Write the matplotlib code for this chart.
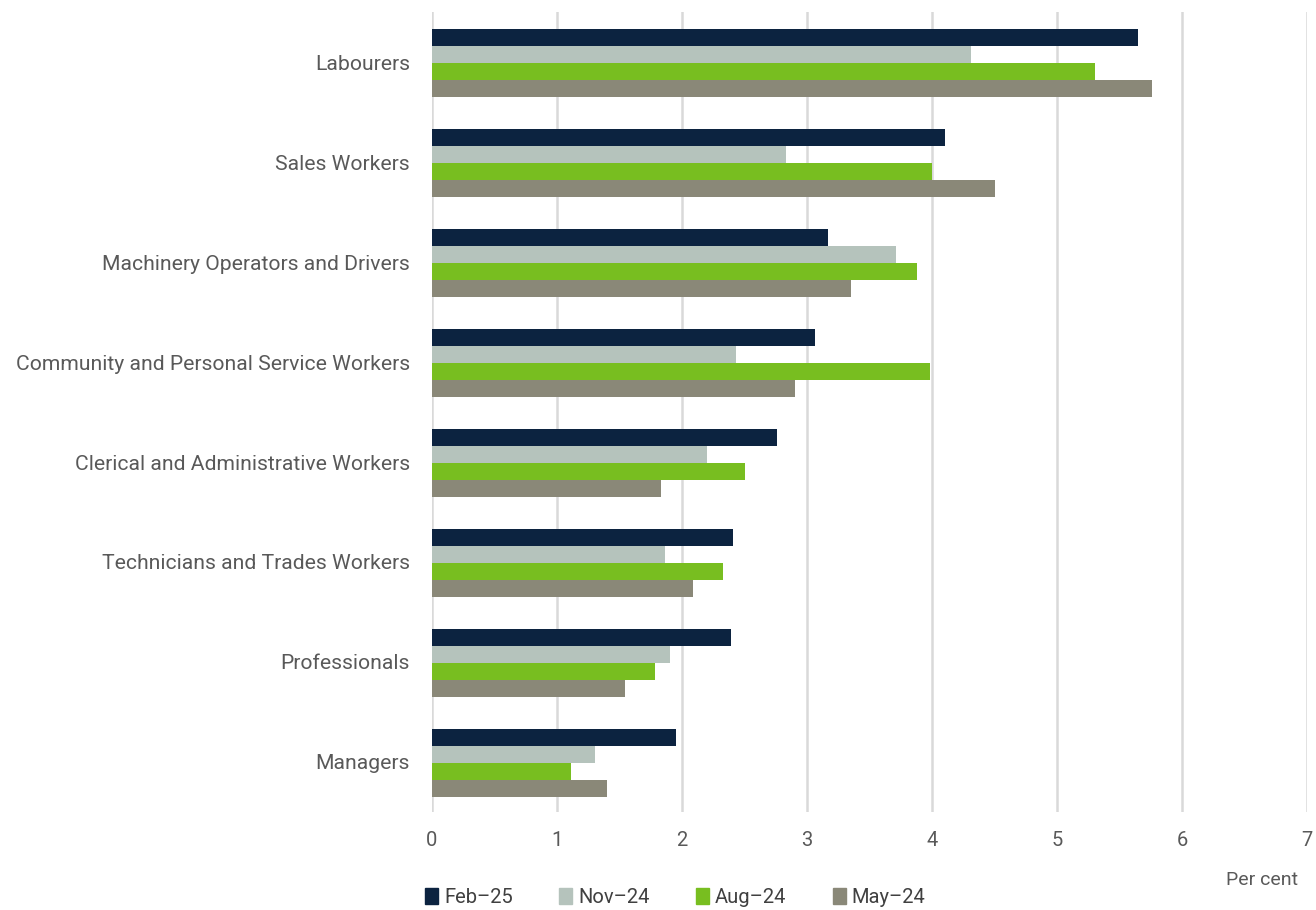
import numpy as np
import matplotlib.pyplot as plt
from matplotlib.patches import Patch

categories = [
    "Labourers",
    "Sales Workers",
    "Machinery Operators and Drivers",
    "Community and Personal Service Workers",
    "Clerical and Administrative Workers",
    "Technicians and Trades Workers",
    "Professionals",
    "Managers",
]
series_names = ["Feb\u201325", "Nov\u201324", "Aug\u201324", "May\u201324"]
feb25 = [5.65, 4.10, 3.17, 3.06, 2.76, 2.41, 2.39, 1.95]
nov24 = [4.31, 2.83, 3.71, 2.43, 2.20, 1.86, 1.90, 1.30]
aug24 = [5.30, 4.00, 3.88, 3.98, 2.50, 2.33, 1.78, 1.11]
may24 = [5.76, 4.50, 3.35, 2.90, 1.83, 2.09, 1.54, 1.40]
colors = ["#0C2340", "#B5C3BC", "#78BE20", "#8A8878"]

plt.rcParams["font.family"] = ["Roboto", "DejaVu Sans"]

fig = plt.figure(figsize=(13.16, 9.10), dpi=100)
ax = fig.add_axes([0.3283, 0.1077, 0.6649, 0.8791])

y = np.arange(len(categories))
h = 0.17
for i, (vals, c) in enumerate(zip([feb25, nov24, aug24, may24], colors)):
    ax.barh(y + (i - 1.5) * h + 0.01, vals, height=h, color=c, zorder=3)

ax.set_ylim(len(categories) - 0.5, -0.5)
ax.set_xlim(0, 7)
ax.set_xticks(range(8))
ax.set_yticks(y)
ax.set_yticklabels(categories)
ax.tick_params(axis="y", length=0, pad=16, labelsize=15.2, labelcolor="#595959")
ax.tick_params(axis="x", length=0, pad=14, labelsize=14.5, labelcolor="#595959")
ax.grid(axis="x", color="#D9D9D9", linewidth=1.8, zorder=0)
for s in ax.spines.values():
    s.set_visible(False)

fig.text(0.986, 0.033, "Per cent", ha="right", va="center", fontsize=14, color="#595959")

handles = [Patch(color=c) for c in colors]
fig.legend(handles, series_names, loc="center left", bbox_to_anchor=(0.309, 0.014),
           ncol=4, frameon=False, fontsize=14.5, handlelength=0.65, handleheight=0.9,
           handletextpad=0.3, columnspacing=2.3, labelcolor="#404040")

fig.savefig("out.png", dpi=100)
